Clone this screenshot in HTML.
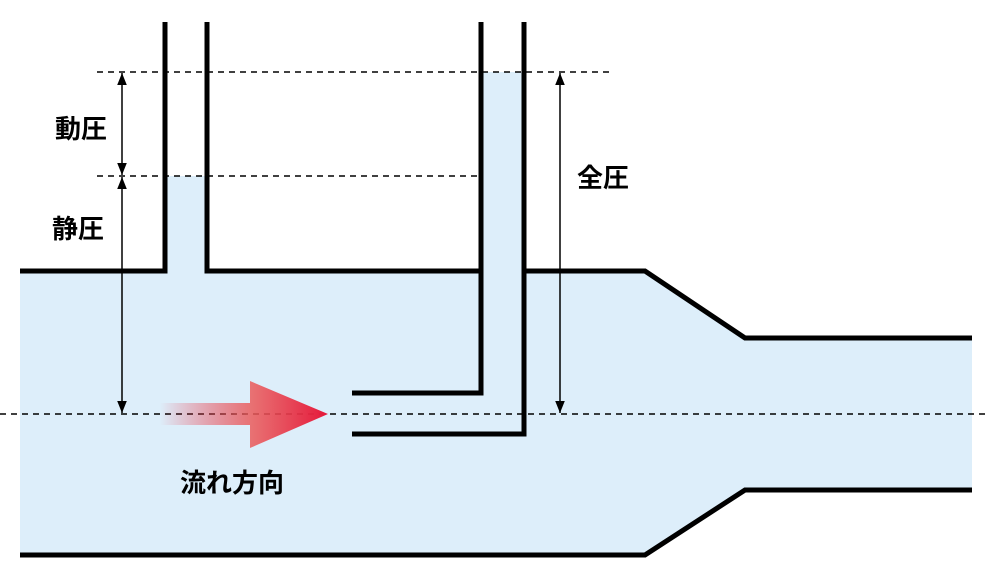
<!DOCTYPE html>
<html><head><meta charset="utf-8"><style>
html,body{margin:0;padding:0;background:#fff;width:990px;height:584px;overflow:hidden}
text{font-family:"Liberation Sans","Noto Sans CJK JP",sans-serif;font-size:26px;font-weight:bold;fill:#000}
</style></head><body>
<svg width="990" height="584" viewBox="0 0 990 584" xmlns="http://www.w3.org/2000/svg">
<defs>
<linearGradient id="g" x1="160" y1="0" x2="328" y2="0" gradientUnits="userSpaceOnUse">
<stop offset="0" stop-color="#e8243c" stop-opacity="0"/>
<stop offset="0.55" stop-color="#ea5a5a" stop-opacity="0.85"/>
<stop offset="1" stop-color="#e5173a"/>
</linearGradient>
<marker id="a" viewBox="0 0 10 10" refX="10" refY="5" markerWidth="8" markerHeight="8" orient="auto-start-reverse"><path d="M0,1 L10,5 L0,9 z" fill="#000"/></marker>
</defs>
<polygon points="20,271 645,271 745,338 972,338 972,490 745,490 645,555 20,555" fill="#ddeefa"/>
<rect x="163" y="176" width="45" height="96" fill="#ddeefa"/>
<rect x="481" y="72" width="43" height="200" fill="#ddeefa"/>
<g fill="none" stroke="#000" stroke-width="5">
<polyline points="20,271 165,271 165,22"/>
<polyline points="207,22 207,271 481,271"/>
<polyline points="481,22 481,393 352,393"/>
<polyline points="524,22 524,434 352,434"/>
<polyline points="524,271 645,271 745,338 972,338"/>
<polyline points="20,555 645,555 745,490 972,490"/>
</g>
<g stroke="#000" stroke-width="1.5" stroke-dasharray="6,5">
<line x1="97" y1="72" x2="612" y2="72"/>
<line x1="97" y1="176" x2="478" y2="176"/>
<line x1="0" y1="414" x2="990" y2="414"/>
</g>
<g stroke="#000" stroke-width="1.5" marker-start="url(#a)" marker-end="url(#a)">
<line x1="122" y1="73" x2="122" y2="175"/>
<line x1="122" y1="177" x2="122" y2="413"/>
<line x1="560" y1="73" x2="560" y2="413"/>
</g>
<polygon points="160,403 250,403 250,381 328,414 250,448 250,425 160,425" fill="url(#g)"/>
<text x="55" y="138">動圧</text>
<text x="52" y="238">静圧</text>
<text x="577" y="187">全圧</text>
<text x="180" y="492">流れ方向</text>
</svg>
</body></html>
